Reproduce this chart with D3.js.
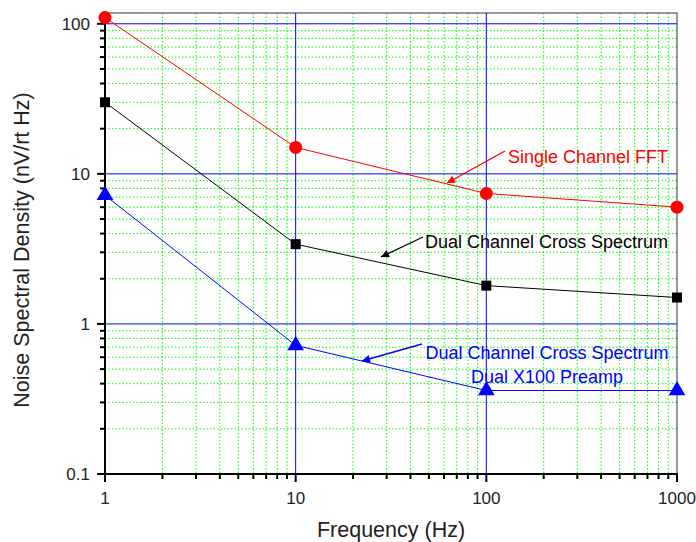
<!DOCTYPE html>
<html><head><meta charset="utf-8">
<script src="https://cdn.jsdelivr.net/npm/d3@7"></script>
<style>body{margin:0;background:#fff}svg{display:block;font-family:Arial,"Liberation Sans",sans-serif}</style>
</head><body><svg id="c" width="696" height="542"></svg>
<script>
const freqs = [1, 10, 100, 1000];
const singleFFT = [110, 15, 7.4, 6.0];
const dualCross = [30, 3.4, 1.8, 1.5];
const dualPreamp = [7.2, 0.72, 0.36, 0.36];
const xTickLabels = ["1", "10", "100", "1000"];
const yTickLabels = ["0.1", "1", "10", "100"];

const svg = d3.select("#c");
const L = 105, R = 677, T = 13, B = 474;
const x = d3.scaleLog().domain([1, 1000]).range([L, R]);
const y = d3.scaleLog().domain([0.1, 118]).range([B, T]);

const minorX = [], minorY = [];
[1, 10, 100].forEach(d => { for (let k = 2; k <= 9; k++) minorX.push(d * k); });
[0.1, 1, 10, 100].forEach(d => { for (let k = 2; k <= 9; k++) { const v = d * k; if (v <= 118) minorY.push(v); } });

const g = svg.append("g");
g.selectAll(".mx").data(minorX).join("line")
  .attr("x1", d => x(d)).attr("x2", d => x(d)).attr("y1", T).attr("y2", B)
  .attr("stroke", "#00ff00").attr("stroke-width", 1).attr("stroke-dasharray", "1.5,2");
g.selectAll(".my").data(minorY).join("line")
  .attr("y1", d => y(d)).attr("y2", d => y(d)).attr("x1", L).attr("x2", R)
  .attr("stroke", "#00ff00").attr("stroke-width", 1).attr("stroke-dasharray", "1.5,2");
g.selectAll(".MX").data([10, 100]).join("line")
  .attr("x1", d => x(d)).attr("x2", d => x(d)).attr("y1", T).attr("y2", B)
  .attr("stroke", "#0000ff").attr("stroke-width", 1);
g.selectAll(".MY").data([1, 10, 100]).join("line")
  .attr("y1", d => y(d)).attr("y2", d => y(d)).attr("x1", L).attr("x2", R)
  .attr("stroke", "#0000ff").attr("stroke-width", 1);

// frame
svg.append("rect").attr("x", L).attr("y", T).attr("width", R - L).attr("height", B - T)
  .attr("fill", "none").attr("stroke", "#333").attr("stroke-width", 1);
svg.append("line").attr("x1", L).attr("x2", L).attr("y1", T).attr("y2", B + 1).attr("stroke", "#000").attr("stroke-width", 2);
svg.append("line").attr("x1", L - 1).attr("x2", R + 1).attr("y1", B).attr("y2", B).attr("stroke", "#000").attr("stroke-width", 2);

// ticks
const majX = freqs;
const majY = [0.1, 1, 10, 100];
svg.selectAll(".tx").data(majX).join("line").attr("x1", d => x(d)).attr("x2", d => x(d)).attr("y1", B).attr("y2", B + 8).attr("stroke", "#000").attr("stroke-width", 2);
svg.selectAll(".tmx").data(minorX).join("line").attr("x1", d => x(d)).attr("x2", d => x(d)).attr("y1", B).attr("y2", B + 5).attr("stroke", "#000").attr("stroke-width", 2);
svg.selectAll(".ty").data(majY).join("line").attr("y1", d => y(d)).attr("y2", d => y(d)).attr("x1", L - 8).attr("x2", L).attr("stroke", "#000").attr("stroke-width", 2);
svg.selectAll(".tmy").data(minorY).join("line").attr("y1", d => y(d)).attr("y2", d => y(d)).attr("x1", L - 5).attr("x2", L).attr("stroke", "#000").attr("stroke-width", 2);

svg.selectAll(".lx").data(majX).join("text").attr("x", d => x(d)).attr("y", B + 30)
  .attr("text-anchor", "middle").attr("font-size", 17).attr("fill", "#222").text((d, i) => xTickLabels[i]);
svg.selectAll(".ly").data(majY).join("text").attr("x", L - 15).attr("y", d => y(d) + 6)
  .attr("text-anchor", "end").attr("font-size", 17).attr("fill", "#222").text((d, i) => yTickLabels[i]);

svg.append("text").attr("x", 391).attr("y", 537).attr("text-anchor", "middle").attr("font-size", 21.5).attr("fill", "#222").text("Frequency (Hz)");
svg.append("text").attr("transform", "translate(29,250) rotate(-90)").attr("text-anchor", "middle").attr("font-size", 21.5).attr("fill", "#222").text("Noise Spectral Density (nV/rt Hz)");

const line = d3.line().x(d => x(d[0])).y(d => y(d[1]));
function series(vals, color, sym, size) {
  const pts = freqs.map((f, i) => [f, vals[i]]);
  svg.append("path").attr("d", line(pts)).attr("fill", "none").attr("stroke", color).attr("stroke-width", 1);
  svg.append("g").selectAll("path").data(pts).join("path")
    .attr("transform", d => `translate(${x(d[0])},${y(d[1])})`)
    .attr("d", d3.symbol().type(sym).size(size)).attr("fill", color);
}
series(dualPreamp, "#0000ff", d3.symbolTriangle, 120);
series(dualCross, "#000000", d3.symbolSquare, 100);
series(singleFFT, "#ff0000", d3.symbolCircle, 133);

// annotations
const defs = svg.append("defs");
function marker(id, color) {
  defs.append("marker").attr("id", id).attr("viewBox", "0 0 10 10").attr("refX", 10).attr("refY", 5)
    .attr("markerWidth", 14).attr("markerHeight", 8).attr("markerUnits", "userSpaceOnUse").attr("orient", "auto")
    .append("path").attr("d", "M0,0 L10,5 L0,10 Z").attr("fill", color);
}
marker("ar", "#ff0000"); marker("ak", "#000000"); marker("ab", "#0000ff");
function arrow(x1, y1, x2, y2, color, id) {
  svg.append("line").attr("x1", x1).attr("y1", y1).attr("x2", x2).attr("y2", y2)
    .attr("stroke", color).attr("stroke-width", 1.3).attr("marker-end", `url(#${id})`);
}
arrow(505, 151, 447, 183, "#ff0000", "ar");
arrow(423, 237, 381, 257, "#000000", "ak");
arrow(422, 344, 362, 361, "#0000ff", "ab");

svg.append("text").attr("x", 508).attr("y", 163).attr("font-size", 18).attr("fill", "#ff0000").text("Single Channel FFT");
svg.append("text").attr("x", 425).attr("y", 248).attr("font-size", 18).attr("fill", "#000").text("Dual Channel Cross Spectrum");
svg.append("text").attr("x", 547).attr("y", 359).attr("text-anchor", "middle").attr("font-size", 18).attr("fill", "#0000ff").text("Dual Channel Cross Spectrum");
svg.append("text").attr("x", 547).attr("y", 383).attr("text-anchor", "middle").attr("font-size", 18).attr("fill", "#0000ff").text("Dual X100 Preamp");
</script></body></html>
